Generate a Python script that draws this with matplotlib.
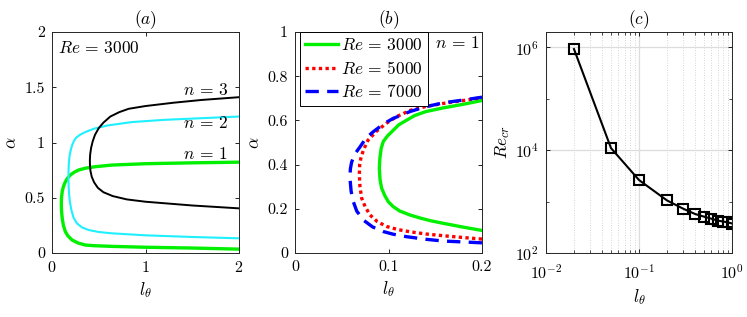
import numpy as np
import matplotlib
matplotlib.use("Agg")
import matplotlib.pyplot as plt
from matplotlib.ticker import LogLocator, NullFormatter

plt.rcParams.update({
    "font.family": "serif",
    "font.serif": ["cmr10", "DejaVu Serif"],
    "mathtext.fontset": "cm",
    "axes.formatter.use_mathtext": True,
    "axes.unicode_minus": False,
    "font.size": 11.5,
})

# ---- Panel (a): neutral curves, Re = 3000 (lower end -> nose -> upper end)
a_n1_l = [2.0, 1.5, 1.0, 0.642, 0.45, 0.357, 0.28, 0.214, 0.17, 0.143, 0.122, 0.11, 0.103, 0.1,
          0.1, 0.103, 0.11, 0.122, 0.135, 0.16, 0.196, 0.24, 0.285, 0.36, 0.463, 0.642, 1.0, 1.5, 2.0]
a_n1_a = [0.035, 0.045, 0.052, 0.06, 0.066, 0.072, 0.09, 0.118, 0.155, 0.193, 0.25, 0.31, 0.37, 0.42,
          0.47, 0.51, 0.56, 0.60, 0.63, 0.67, 0.706, 0.732, 0.751, 0.768, 0.781, 0.796, 0.808, 0.816, 0.822]
a_n2_l = [2.0, 1.5, 1.0, 0.642, 0.5, 0.392, 0.32, 0.267, 0.23, 0.207, 0.192, 0.183, 0.178, 0.176,
          0.177, 0.181, 0.188, 0.2, 0.215, 0.235, 0.26, 0.3, 0.357, 0.45, 0.6, 0.856, 1.2, 1.6, 2.0]
a_n2_a = [0.133, 0.145, 0.16, 0.178, 0.19, 0.208, 0.232, 0.268, 0.32, 0.39, 0.46, 0.53, 0.60, 0.67,
          0.751, 0.82, 0.88, 0.93, 0.975, 1.015, 1.045, 1.07, 1.095, 1.125, 1.155, 1.185, 1.205, 1.22, 1.235]
a_n3_l = [2.0, 1.5, 1.0, 0.8, 0.65, 0.55, 0.49, 0.45, 0.425, 0.412, 0.406, 0.405, 0.408, 0.418,
          0.435, 0.46, 0.5, 0.55, 0.624, 0.72, 0.82, 1.0, 1.3, 1.6, 2.0]
a_n3_a = [0.404, 0.43, 0.464, 0.485, 0.515, 0.55, 0.59, 0.64, 0.69, 0.74, 0.79, 0.84, 0.89, 0.95,
          1.01, 1.07, 1.13, 1.18, 1.235, 1.275, 1.305, 1.33, 1.36, 1.385, 1.41]

# ---- Panel (b): n = 1, different Re
b_re3000_l = [0.2, 0.18, 0.159, 0.145, 0.134, 0.123, 0.112, 0.105, 0.0998, 0.096, 0.0927, 0.091, 0.0902,
              0.0908, 0.0922, 0.0945, 0.099, 0.105, 0.111, 0.119, 0.128, 0.14, 0.159, 0.18, 0.2]
b_re3000_a = [0.102, 0.117, 0.134, 0.146, 0.158, 0.172, 0.19, 0.21, 0.232, 0.26, 0.293, 0.33, 0.383,
              0.43, 0.474, 0.505, 0.53, 0.555, 0.58, 0.60, 0.622, 0.64, 0.657, 0.673, 0.69]
b_re5000_l = [0.2, 0.18, 0.159, 0.14, 0.123, 0.11, 0.098, 0.088, 0.0802, 0.075, 0.0713, 0.0695,
              0.0688, 0.0692, 0.0705, 0.0731, 0.078, 0.0874, 0.098, 0.1087, 0.123, 0.14, 0.159, 0.18, 0.2]
b_re5000_a = [0.063, 0.07, 0.078, 0.086, 0.096, 0.106, 0.12, 0.142, 0.172, 0.21, 0.248, 0.3,
              0.353, 0.40, 0.43, 0.465, 0.51, 0.552, 0.588, 0.617, 0.645, 0.663, 0.677, 0.69, 0.703]
b_re7000_l = [0.2, 0.18, 0.159, 0.14, 0.119, 0.105, 0.0945, 0.083, 0.0731, 0.066, 0.0624, 0.06,
              0.0588, 0.0592, 0.0605, 0.0635, 0.0695, 0.076, 0.0838, 0.095, 0.105, 0.123, 0.14, 0.159, 0.18, 0.2]
b_re7000_a = [0.046, 0.05, 0.054, 0.062, 0.074, 0.085, 0.097, 0.118, 0.149, 0.19, 0.232, 0.28,
              0.338, 0.38, 0.41, 0.445, 0.48, 0.52, 0.549, 0.585, 0.609, 0.64, 0.662, 0.68, 0.692, 0.705]

# ---- Panel (c): critical Reynolds number
c_l = [0.02, 0.05, 0.1, 0.2, 0.3, 0.4, 0.5, 0.6, 0.7, 0.8, 0.9, 1.0]
c_re = [9.3e5, 1.1e4, 2630, 1055, 725, 575, 510, 465, 428, 410, 395, 375]

GREEN = "#00f000"
CYAN = "#1ef0ff"
TXT = 12.5

fig = plt.figure(figsize=(7.47, 3.17), dpi=100)
W, H = 747, 317
def ax_rect(l, r, t, b):
    return [l / W, 1 - b / H, (r - l) / W, (b - t) / H]

ax1 = fig.add_axes(ax_rect(52, 239, 32, 253))
ax2 = fig.add_axes(ax_rect(295, 482, 32, 253))
ax3 = fig.add_axes(ax_rect(546, 732, 32, 253))

for ax in (ax1, ax2, ax3):
    ax.tick_params(direction="in", top=True, right=True, length=3, width=0.6, pad=5)
    ax.tick_params(which="minor", direction="in", top=True, right=True, length=2, width=0.5)
    for s in ax.spines.values():
        s.set_linewidth(0.7)
        s.set_color("#262626")

# (a)
ax1.plot(a_n1_l, a_n1_a, color=GREEN, lw=2.4, solid_joinstyle="round")
ax1.plot(a_n2_l, a_n2_a, color=CYAN, lw=1.5, solid_joinstyle="round")
ax1.plot(a_n3_l, a_n3_a, color="black", lw=1.4, solid_joinstyle="round")
ax1.set_xlim(0, 2)
ax1.set_ylim(0, 2)
ax1.set_xticks([0, 1, 2])
ax1.set_yticks([0, 0.5, 1, 1.5, 2])
ax1.set_yticklabels(["0", "0.5", "1", "1.5", "2"])
ax1.set_xlabel(r"$l_\theta$", fontsize=TXT)
ax1.set_ylabel(r"$\alpha$", fontsize=TXT)
ax1.set_title(r"$(a)$", fontsize=12.5, pad=6)
ax1.text(0.065, 1.855, r"$Re\,=\,3000$", fontsize=TXT, va="center", ha="left")
ax1.text(1.88, 1.475, r"$n\,=\,3$", fontsize=TXT, va="center", ha="right")
ax1.text(1.88, 1.18, r"$n\,=\,2$", fontsize=TXT, va="center", ha="right")
ax1.text(1.88, 0.90, r"$n\,=\,1$", fontsize=TXT, va="center", ha="right")

# (b)
ax2.plot(b_re3000_l, b_re3000_a, color=GREEN, lw=2.4, solid_joinstyle="round", label=r"$Re\,=\,3000$")
ax2.plot(b_re5000_l, b_re5000_a, color="red", lw=2.4, ls=(0, (1, 1)), label=r"$Re\,=\,5000$")
ax2.plot(b_re7000_l, b_re7000_a, color="blue", lw=2.4, ls=(0, (4, 2.5)), label=r"$Re\,=\,7000$")
ax2.set_xlim(0, 0.2)
ax2.set_ylim(0, 1)
ax2.set_xticks([0, 0.1, 0.2])
ax2.set_xticklabels(["0", "0.1", "0.2"])
ax2.set_yticks([0, 0.2, 0.4, 0.6, 0.8, 1])
ax2.set_yticklabels(["0", "0.2", "0.4", "0.6", "0.8", "1"])
ax2.set_xlabel(r"$l_\theta$", fontsize=TXT)
ax2.set_ylabel(r"$\alpha$", fontsize=TXT)
ax2.set_title(r"$(b)$", fontsize=12.5, pad=6)
ax2.text(0.197, 0.95, r"$n\,=\,1$", fontsize=TXT, va="center", ha="right")
leg = ax2.legend(loc="upper left", bbox_to_anchor=(0.025, 1.0), fontsize=TXT, frameon=True,
                 fancybox=False, edgecolor="black", framealpha=1, handlelength=1.9,
                 handletextpad=0.2, borderpad=0.3, labelspacing=0.38, borderaxespad=0.0)
leg.get_frame().set_linewidth(0.7)

# (c)
ax3.plot(c_l, c_re, color="black", lw=1.5, marker="s", ms=7, mfc="none", mec="black", mew=1.5)
ax3.set_xscale("log")
ax3.set_yscale("log")
ax3.set_xlim(1e-2, 1)
ax3.set_ylim(1e2, 2e6)
ax3.set_xticks([1e-2, 1e-1, 1])
ax3.set_yticks([1e2, 1e4, 1e6])
ax3.xaxis.set_minor_locator(LogLocator(base=10, subs=np.arange(2, 10), numticks=20))
ax3.xaxis.set_minor_formatter(NullFormatter())
ax3.yaxis.set_minor_locator(LogLocator(base=10, subs=[1.0], numticks=20))
ax3.yaxis.set_minor_formatter(NullFormatter())
ax3.tick_params(axis="x", pad=7)
ax3.grid(True, which="major", color="#dcdcdc", lw=0.9, ls="-")
ax3.grid(True, which="minor", axis="x", color="#c8c8c8", lw=0.6, ls=(0, (1, 2)))
ax3.set_axisbelow(True)
ax3.set_xlabel(r"$l_\theta$", fontsize=TXT)
ax3.set_ylabel(r"$Re_{cr}$", fontsize=TXT, labelpad=2)
ax3.set_title(r"$(c)$", fontsize=12.5, pad=6)

fig.savefig("out.png", dpi=100)
